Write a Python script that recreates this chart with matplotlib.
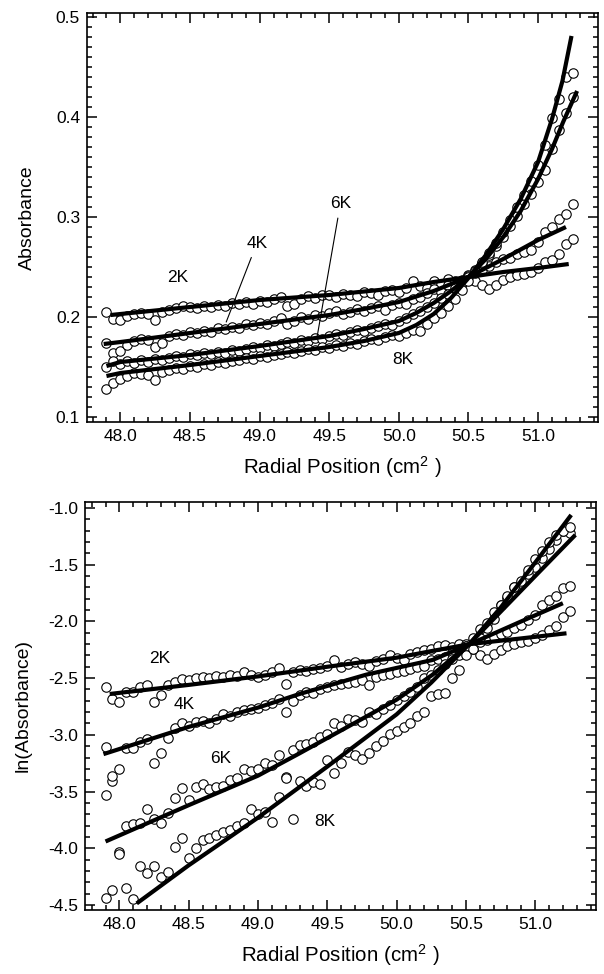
import matplotlib
matplotlib.use("Agg")
import matplotlib.pyplot as plt
from matplotlib.ticker import MultipleLocator

plt.rcParams['font.family'] = ['Liberation Sans', 'DejaVu Sans']
plt.rcParams['mathtext.fontset'] = 'custom'
plt.rcParams['mathtext.rm'] = 'Liberation Sans'
plt.rcParams['mathtext.it'] = 'Liberation Sans'

#%% data
radial = [47.90, 47.95, 48.00, 48.05, 48.10, 48.15, 48.20, 48.25, 48.30, 48.35,
          48.40, 48.45, 48.50, 48.55, 48.60, 48.65, 48.70, 48.75, 48.80, 48.85,
          48.90, 48.95, 49.00, 49.05, 49.10, 49.15, 49.20, 49.25, 49.30, 49.35,
          49.40, 49.45, 49.50, 49.55, 49.60, 49.65, 49.70, 49.75, 49.80, 49.85,
          49.90, 49.95, 50.00, 50.05, 50.10, 50.15, 50.20, 50.25, 50.30, 50.35,
          50.40, 50.45, 50.50, 50.55, 50.60, 50.65, 50.70, 50.75, 50.80, 50.85,
          50.90, 50.95, 51.00, 51.05, 51.10, 51.15, 51.20, 51.25]

labels = ["2K", "4K", "6K", "8K"]

# absorbance, measured
abs_2k = [0.205, 0.198, 0.197, 0.201, 0.203, 0.204, 0.203, 0.197, 0.205, 0.207,
          0.209, 0.211, 0.210, 0.209, 0.211, 0.210, 0.212, 0.211, 0.214, 0.213,
          0.215, 0.213, 0.216, 0.215, 0.218, 0.220, 0.211, 0.213, 0.218, 0.221,
          0.219, 0.222, 0.222, 0.220, 0.223, 0.222, 0.221, 0.225, 0.224, 0.222,
          0.226, 0.227, 0.225, 0.229, 0.236, 0.231, 0.229, 0.236, 0.233, 0.238,
          0.234, 0.237, 0.242, 0.236, 0.232, 0.228, 0.232, 0.237, 0.240, 0.242,
          0.243, 0.245, 0.249, 0.255, 0.257, 0.263, 0.273, 0.278]
abs_4k = [0.174, 0.164, 0.166, 0.172, 0.176, 0.178, 0.177, 0.170, 0.174, 0.181,
          0.183, 0.182, 0.185, 0.184, 0.186, 0.185, 0.189, 0.188, 0.190, 0.189,
          0.193, 0.192, 0.194, 0.193, 0.196, 0.199, 0.193, 0.196, 0.200, 0.198,
          0.202, 0.201, 0.204, 0.206, 0.203, 0.205, 0.208, 0.206, 0.209, 0.211,
          0.207, 0.212, 0.214, 0.213, 0.218, 0.220, 0.224, 0.228, 0.225, 0.232,
          0.236, 0.234, 0.241, 0.244, 0.247, 0.251, 0.255, 0.258, 0.259, 0.263,
          0.265, 0.267, 0.275, 0.285, 0.290, 0.298, 0.303, 0.313]
abs_6k = [0.150, 0.156, 0.153, 0.156, 0.154, 0.157, 0.155, 0.158, 0.157, 0.159,
          0.161, 0.160, 0.163, 0.162, 0.164, 0.163, 0.165, 0.164, 0.167, 0.166,
          0.168, 0.170, 0.169, 0.172, 0.171, 0.173, 0.175, 0.174, 0.177, 0.176,
          0.179, 0.178, 0.181, 0.183, 0.182, 0.185, 0.187, 0.186, 0.189, 0.191,
          0.193, 0.192, 0.196, 0.199, 0.203, 0.206, 0.210, 0.214, 0.219, 0.223,
          0.229, 0.234, 0.240, 0.247, 0.254, 0.262, 0.271, 0.280, 0.291, 0.301,
          0.313, 0.323, 0.335, 0.347, 0.368, 0.387, 0.404, 0.420]
abs_8k = [0.128, 0.134, 0.138, 0.141, 0.144, 0.143, 0.142, 0.137, 0.145, 0.147,
          0.149, 0.148, 0.151, 0.150, 0.153, 0.152, 0.155, 0.154, 0.156, 0.157,
          0.159, 0.158, 0.161, 0.160, 0.162, 0.163, 0.165, 0.164, 0.166, 0.168,
          0.167, 0.170, 0.169, 0.172, 0.171, 0.174, 0.173, 0.176, 0.178, 0.177,
          0.180, 0.182, 0.181, 0.184, 0.187, 0.186, 0.193, 0.199, 0.204, 0.211,
          0.218, 0.227, 0.236, 0.246, 0.255, 0.264, 0.274, 0.285, 0.297, 0.310,
          0.322, 0.336, 0.352, 0.372, 0.399, 0.418, 0.440, 0.444]

# ln(absorbance), measured
ln_2k = [-2.58, -2.68, -2.71, -2.62, -2.62, -2.58, -2.56, -2.71, -2.65, -2.56,
         -2.53, -2.51, -2.52, -2.50, -2.49, -2.50, -2.48, -2.49, -2.47, -2.48,
         -2.45, -2.47, -2.49, -2.47, -2.45, -2.41, -2.55, -2.45, -2.43, -2.44,
         -2.42, -2.41, -2.39, -2.34, -2.40, -2.38, -2.36, -2.38, -2.39, -2.35,
         -2.33, -2.30, -2.32, -2.34, -2.29, -2.27, -2.25, -2.24, -2.22, -2.21,
         -2.23, -2.20, -2.20, -2.24, -2.30, -2.33, -2.29, -2.25, -2.22, -2.20,
         -2.18, -2.17, -2.15, -2.12, -2.08, -2.04, -1.96, -1.91]
ln_4k = [-3.11, -3.41, -3.30, -3.12, -3.12, -3.06, -3.04, -3.25, -3.16, -3.03,
         -2.94, -2.90, -2.92, -2.89, -2.88, -2.90, -2.86, -2.82, -2.83, -2.80,
         -2.78, -2.77, -2.76, -2.74, -2.72, -2.68, -2.80, -2.70, -2.65, -2.62,
         -2.63, -2.60, -2.58, -2.56, -2.55, -2.54, -2.53, -2.52, -2.56, -2.49,
         -2.47, -2.46, -2.45, -2.44, -2.42, -2.40, -2.39, -2.34, -2.33, -2.31,
         -2.28, -2.25, -2.22, -2.20, -2.18, -2.16, -2.14, -2.11, -2.09, -2.06,
         -2.03, -1.99, -1.94, -1.86, -1.81, -1.78, -1.71, -1.69]
ln_6k = [-3.53, -3.36, -4.03, -3.80, -3.79, -3.78, -3.65, -3.74, -3.78, -3.69,
         -3.56, -3.47, -3.575, -3.46, -3.43, -3.48, -3.46, -3.45, -3.40, -3.38,
         -3.30, -3.32, -3.30, -3.25, -3.27, -3.18, -3.37, -3.13, -3.09, -3.08,
         -3.06, -3.02, -2.99, -2.90, -2.92, -2.86, -2.87, -2.89, -2.80, -2.82,
         -2.77, -2.74, -2.69, -2.66, -2.62, -2.58, -2.50, -2.47, -2.43, -2.38,
         -2.33, -2.30, -2.22, -2.15, -2.07, -2.01, -1.92, -1.86, -1.79, -1.70,
         -1.66, -1.58, -1.52, -1.44, -1.36, -1.28, -1.20, -1.22]
ln_8k = [-4.44, -4.37, -4.05, -4.35, -4.45, -4.16, -4.22, -4.16, -4.25, -4.21,
         -3.99, -3.91, -4.09, -4.00, -3.93, -3.91, -3.88, -3.86, -3.84, -3.80,
         -3.78, -3.65, -3.70, -3.68, -3.77, -3.55, -3.38, -3.74, -3.41, -3.45,
         -3.42, -3.43, -3.22, -3.34, -3.25, -3.15, -3.18, -3.21, -3.16, -3.10,
         -3.05, -2.99, -2.97, -2.93, -2.90, -2.83, -2.80, -2.66, -2.64, -2.63,
         -2.50, -2.43, -2.30, -2.24, -2.15, -2.06, -1.98, -1.86, -1.78, -1.70,
         -1.64, -1.55, -1.45, -1.38, -1.30, -1.24, -1.20, -1.17]

# fitted curves
fit_abs_x = [
    [47.93, 48.0, 48.5, 49.0, 49.5, 50.0, 50.25, 50.5, 50.75, 51.0, 51.22],
    [47.88, 48.0, 48.5, 49.0, 49.5, 49.75, 50.0, 50.25, 50.5, 50.75, 51.0, 51.2],
    [47.9, 48.0, 48.5, 49.0, 49.5, 49.75, 50.0, 50.125, 50.25, 50.375, 50.5,
     50.625, 50.75, 50.875, 51.0, 51.1, 51.18, 51.28],
    [47.9, 48.0, 48.5, 49.0, 49.5, 49.75, 50.0, 50.125, 50.25, 50.375, 50.5,
     50.625, 50.75, 50.875, 51.0, 51.1, 51.175, 51.24],
]
fit_abs_y = [
    [0.202, 0.203, 0.210, 0.217, 0.222, 0.229, 0.235, 0.240, 0.245, 0.249, 0.253],
    [0.173, 0.175, 0.184, 0.193, 0.202, 0.208, 0.215, 0.226, 0.240, 0.258, 0.277, 0.290],
    [0.151, 0.155, 0.162, 0.171, 0.181, 0.188, 0.196, 0.204, 0.214, 0.226, 0.240,
     0.258, 0.280, 0.306, 0.338, 0.368, 0.395, 0.426],
    [0.141, 0.144, 0.152, 0.161, 0.170, 0.176, 0.184, 0.192, 0.203, 0.219, 0.239,
     0.262, 0.288, 0.318, 0.355, 0.398, 0.436, 0.481],
]
fit_ln_x = [
    [47.93, 48.5, 49.0, 49.5, 50.0, 50.26, 50.53, 50.9, 51.226],
    [47.885, 48.5, 49.0, 49.3, 49.78, 50.26, 50.53, 50.9, 51.2],
    [47.90, 48.5, 49.0, 49.3, 49.78, 50.0, 50.26, 50.53, 51.02, 51.29],
    [48.125, 48.5, 49.0, 49.5, 50.0, 50.25, 50.53, 50.75, 51.02, 51.26],
]
fit_ln_y = [
    [-2.64, -2.56, -2.485, -2.40, -2.32, -2.26, -2.20, -2.15, -2.105],
    [-3.17, -2.93, -2.76, -2.64, -2.47, -2.34, -2.20, -2.00, -1.84],
    [-3.94, -3.62, -3.36, -3.163, -2.84, -2.69, -2.47, -2.193, -1.576, -1.238],
    [-4.486, -4.15, -3.73, -3.28, -2.82, -2.54, -2.193, -1.88, -1.45, -1.062],
]

#%% plot
fig = plt.figure(figsize=(6.04, 9.74), dpi=100)
ax1 = fig.add_axes([0.144, 0.5667, 0.846, 0.420])
ax2 = fig.add_axes([0.141, 0.0657, 0.846, 0.419])


def style_axes(ax, ymajor, yminor):
    ax.xaxis.set_major_locator(MultipleLocator(0.5))
    ax.xaxis.set_minor_locator(MultipleLocator(0.1))
    ax.yaxis.set_major_locator(MultipleLocator(ymajor))
    ax.yaxis.set_minor_locator(MultipleLocator(yminor))
    ax.tick_params(which="both", direction="in", top=True, right=True,
                   labelsize=12.5, width=1.1)
    ax.tick_params(which="major", length=7, pad=5)
    ax.tick_params(which="minor", length=3.5)
    for s in ax.spines.values():
        s.set_linewidth(1.2)
    ax.set_xlabel("Radial Position (cm$^{2}$ )", fontsize=14.8, labelpad=7)


for ys in [abs_2k, abs_4k, abs_6k, abs_8k]:
    ax1.plot(radial, ys, "o", mfc="white", mec="black", ms=6.8, mew=0.8, zorder=2)
for fx, fy in zip(fit_abs_x, fit_abs_y):
    ax1.plot(fx, fy, "-", color="black", lw=3, solid_capstyle="butt",
             solid_joinstyle="round", zorder=3)

ax1.set_xlim(47.76, 51.43)
ax1.set_ylim(0.095, 0.504)
style_axes(ax1, 0.1, 0.01)
ax1.yaxis.set_major_formatter(plt.FormatStrFormatter("%.1f"))
ax1.set_ylabel("Absorbance", fontsize=14, labelpad=14)

ax1.text(48.41, 0.2397, labels[0], fontsize=12.5, ha="center", va="center")
ax1.annotate(labels[1], xy=(48.76, 0.195), xytext=(48.98, 0.2737), fontsize=12.5,
             ha="center", va="center",
             arrowprops=dict(arrowstyle="-", lw=0.8, color="black", shrinkA=3, shrinkB=0))
ax1.annotate(labels[2], xy=(49.41, 0.178), xytext=(49.58, 0.3133), fontsize=12.5,
             ha="center", va="center",
             arrowprops=dict(arrowstyle="-", lw=0.8, color="black", shrinkA=3, shrinkB=0))
ax1.text(50.03, 0.158, labels[3], fontsize=12.5, ha="center", va="center")

for ys in [ln_2k, ln_4k, ln_6k, ln_8k]:
    ax2.plot(radial, ys, "o", mfc="white", mec="black", ms=6.8, mew=0.8, zorder=2)
for fx, fy in zip(fit_ln_x, fit_ln_y):
    ax2.plot(fx, fy, "-", color="black", lw=3, solid_capstyle="butt",
             solid_joinstyle="round", zorder=3)

ax2.set_xlim(47.753, 51.44)
ax2.set_ylim(-4.544, -0.947)
style_axes(ax2, 0.5, 0.1)
ax2.yaxis.set_major_formatter(plt.FormatStrFormatter("%.1f"))
ax2.set_ylabel("ln(Absorbance)", fontsize=14, labelpad=12)

ax2.text(48.29, -2.325, labels[0], fontsize=12.5, ha="center", va="center")
ax2.text(48.47, -2.737, labels[1], fontsize=12.5, ha="center", va="center")
ax2.text(48.73, -3.207, labels[2], fontsize=12.5, ha="center", va="center")
ax2.text(49.48, -3.766, labels[3], fontsize=12.5, ha="center", va="center")

fig.savefig("out.png", dpi=100)
